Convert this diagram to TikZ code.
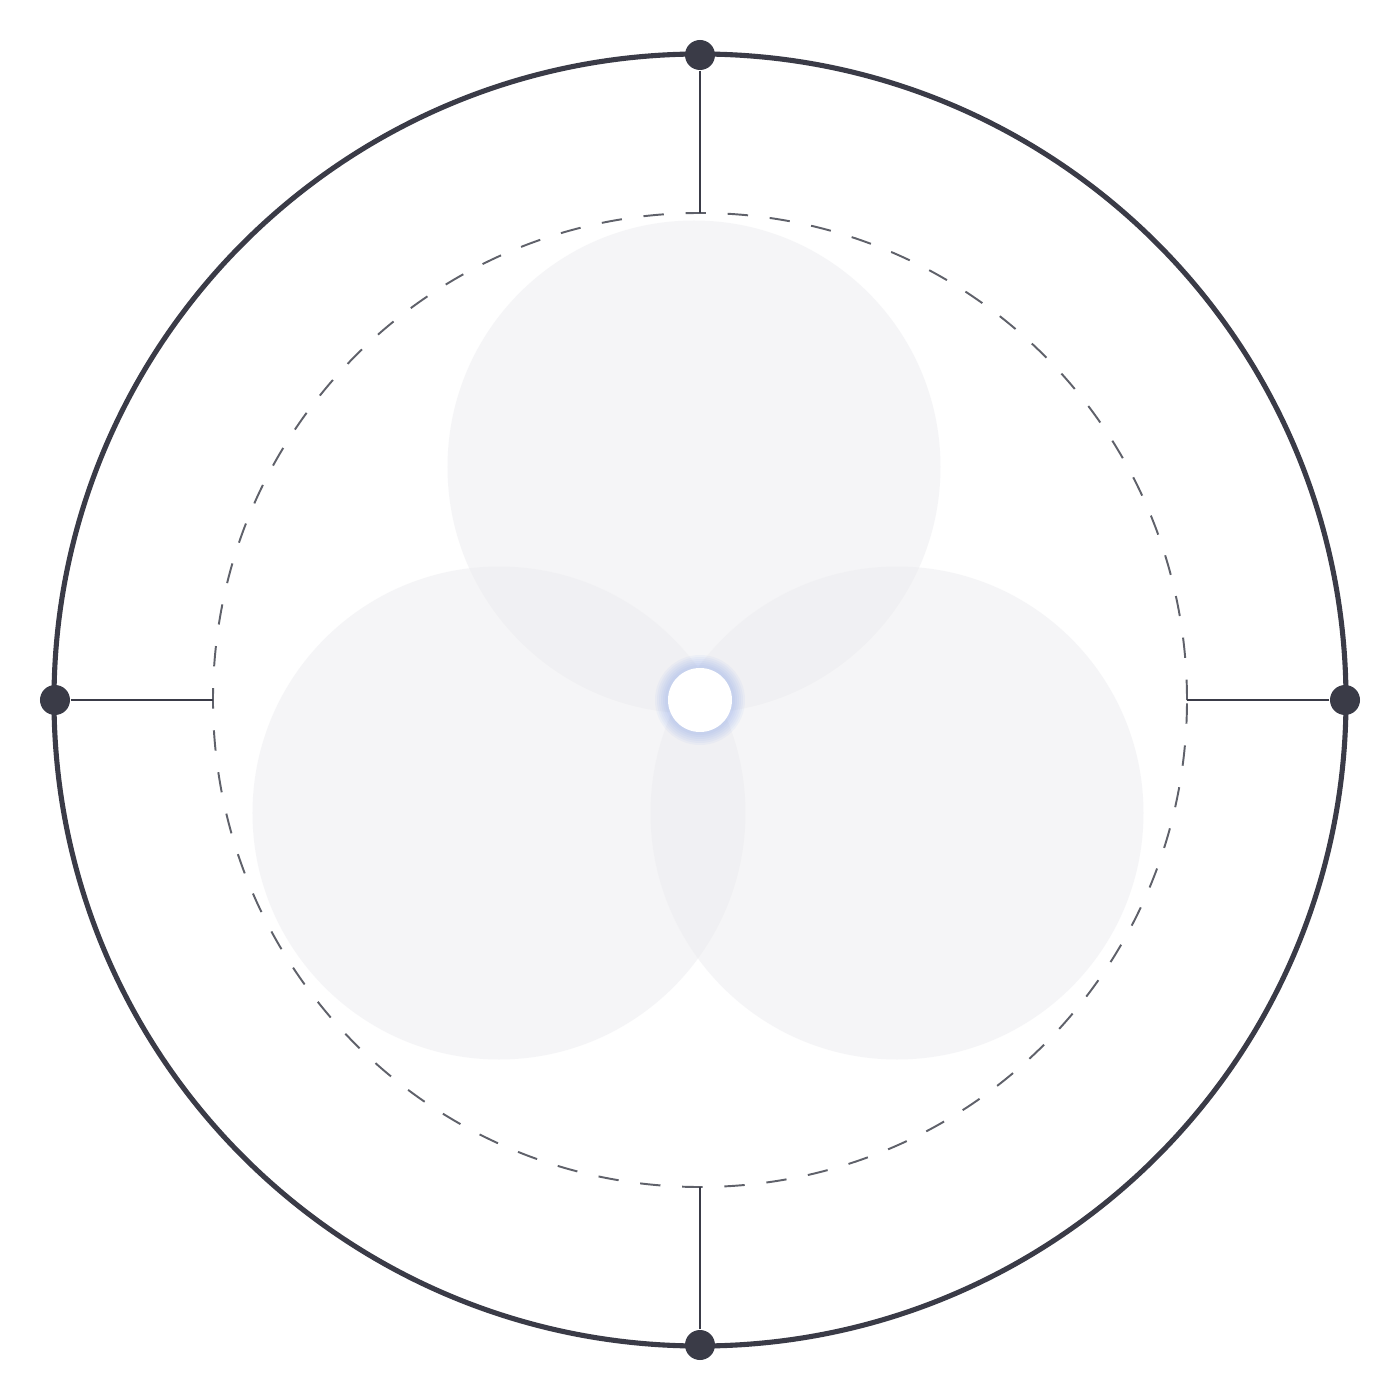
\documentclass[tikz,border=0pt]{standalone}
\usetikzlibrary{positioning}
\definecolor{ringdark}{RGB}{58,59,71}
\definecolor{dashgray}{RGB}{95,97,106}
\definecolor{petal}{RGB}{237,237,240}
\definecolor{glowblue}{RGB}{130,160,235}
\begin{document}
\begin{tikzpicture}[
    petalc/.style={circle, fill=petal, fill opacity=0.5, minimum size=4.93cm, inner sep=0pt},
    dot/.style={circle, fill=ringdark, minimum size=0.3cm, inner sep=0pt},
    tick/.style={draw=ringdark, line width=0.6pt},
    hub/.style={circle, fill=white, minimum size=0.64cm, inner sep=0pt}
]
\useasboundingbox (-7,-7) rectangle (7,7);
\fill[white] (-7,-7) rectangle (7,7);

% three petals
\node[petalc] (pTop) at (-0.06,2.33) {};
\node[petalc] (pLeft) at (-2.01,-1.13) {};
\node[petalc] (pRight) at (1.97,-1.13) {};

% rings
\draw[dashgray, line width=0.55pt, dash pattern=on 5.8pt off 6.2pt] (0,0) circle (4.87);
\draw[ringdark, line width=1.45pt] (0,0) circle (6.46);

% glow + hub
\foreach \r in {0.45,0.43,0.41,0.39,0.37,0.35}
  \fill[glowblue, opacity=0.07] (0,0) circle (\r);
\node[hub] (hub) at (0,0) {};

% spokes
\node[dot] (dN) at (0,6.45) {};
\node[dot] (dS) at (0,-6.45) {};
\node[dot] (dW) at (-6.45,0) {};
\node[dot] (dE) at (6.45,0) {};
\coordinate (cN) at (0,4.87);
\coordinate (cS) at (0,-4.87);
\coordinate (cW) at (-4.87,0);
\coordinate (cE) at (4.87,0);
\draw[tick] (dN) -- (cN);
\draw[tick] (dS) -- (cS);
\draw[tick] (dW) -- (cW);
\draw[tick] (dE) -- (cE);
\end{tikzpicture}
\end{document}
